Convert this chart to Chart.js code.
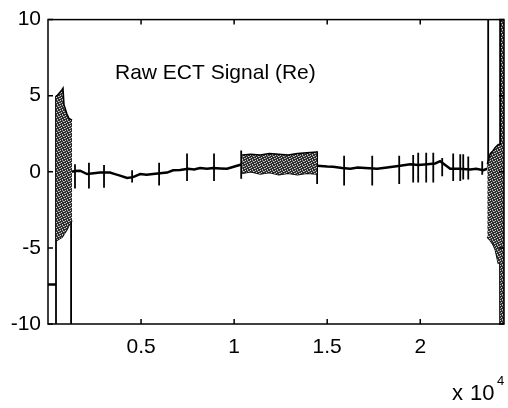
<!DOCTYPE html>
<html>
<head>
<meta charset="utf-8">
<script src="https://cdn.jsdelivr.net/npm/chart.js@4/dist/chart.umd.min.js"></script>
<style>
  body { margin: 0; background: #fff; }
  #wrap { width: 508px; height: 408px; }
</style>
</head>
<body>
<div id="wrap"><canvas id="ectChart" width="508" height="408"></canvas></div>
<script>
const xTicks = [5000, 10000, 15000, 20000];
const yTicks = [-10, -5, 0, 5, 10];

// baseline trace (null = break in the line)
const traceX = [0, 430, 430, 1290, 1450, 1720, 2100, 2450, 2800, 3330, 3600, 3870, 4250, 4570, 4950, 5300, 5640, 6020, 6400, 6720, 7100, 7530, 7850, 8170, 8550, 8870, 9250, 9620, 10160, 10430,
  14460, 15000, 15320, 15800, 16240, 16650, 17040, 17690, 18220, 18920, 19460, 19900, 20380, 20800, 21070, 21610, 22100, 22690, 23000, 23390, 23600];
const traceY = [-7.4, -7.4, null, 0.0, 0.05, 0.07, -0.15, -0.1, -0.05, -0.05, -0.15, -0.25, -0.4, -0.35, -0.15, -0.2, -0.15, -0.1, -0.05, 0.1, 0.12, 0.2, 0.15, 0.25, 0.2, 0.25, 0.22, 0.2, 0.4, 0.5,
  0.4, 0.35, 0.33, 0.25, 0.2, 0.28, 0.25, 0.2, 0.28, 0.4, 0.5, 0.45, 0.5, 0.55, 0.7, 0.2, 0.2, 0.15, 0.2, 0.1, 0.2];

// vertical spikes
const spikeX  = [430, 1240, 1450, 2200, 3010, 4520, 5970, 7470, 8920, 10380, 14460, 15910, 17420, 18870, 19620, 19890, 20320, 20700, 21180, 21770, 22150, 22310, 22580, 23330, 23650, 24300];
const spikeLo = [-10, -10, -1.1, -1.1, -1.05, -0.7, -0.9, -0.6, -0.6, -0.45, -0.8, -0.9, -0.9, -0.8, -0.7, -0.7, -0.7, -0.7, -0.3, -0.6, -0.6, -0.5, -0.5, -0.2, 0.3, -10];
const spikeHi = [5.0, -3.2, 0.5, 0.6, 0.45, 0.1, 0.6, 1.2, 1.2, 1.4, 1.35, 1.05, 1.05, 1.05, 1.1, 1.25, 1.25, 1.25, 0.9, 1.2, 1.15, 1.15, 1.0, 0.7, 10, 10];

// dense oscillation envelopes
const bandLeftX  = [430, 484, 753, 806, 860, 1020, 1130, 1290];
const bandLeftHi = [5.0, 5.0, 5.4, 5.5, 4.4, 3.8, 3.5, 3.4];
const bandLeftLo = [-4.5, -4.5, -4.3, -4.2, -4.1, -3.8, -3.5, -3.2];

const bandMidX  = [10430, 10900, 11400, 11900, 12400, 12900, 13400, 13900, 14460];
const bandMidHi = [1.1, 1.15, 1.1, 1.2, 1.15, 1.1, 1.2, 1.25, 1.3];
const bandMidLo = [-0.1, 0.0, -0.15, -0.05, -0.2, -0.1, -0.2, -0.1, -0.15];

const bandRightX  = [23600, 23760, 23920, 24030, 24190, 24290, 24300, 24500];
const bandRightHi = [0.5, 1.2, 1.4, 1.6, 1.8, 1.8, 10, 10];
const bandRightLo = [-4.3, -4.5, -4.8, -5.1, -6.0, -6.0, -10, -10];

const FONT = "'Liberation Sans', Arial, sans-serif";

function pts(xs, ys) {
  return xs.map((x, i) => ({ x: x, y: ys[i] }));
}

const spikePts = [];
spikeX.forEach((x, i) => {
  spikePts.push({ x: x, y: spikeLo[i] }, { x: x, y: spikeHi[i] }, { x: x, y: null });
});

// stippled fill like the scanned figure
function stipple() {
  const c = document.createElement('canvas');
  c.width = 5; c.height = 5;
  const g = c.getContext('2d');
  g.fillStyle = '#2e2e2e';
  g.fillRect(0, 0, 5, 5);
  g.fillStyle = '#cfcfcf';
  [[0, 0], [3, 1], [1, 2], [4, 3], [2, 4]].forEach(p => g.fillRect(p[0], p[1], 1, 1));
  g.fillStyle = '#8a8a8a';
  [[2, 0], [0, 3], [4, 1]].forEach(p => g.fillRect(p[0], p[1], 1, 1));
  return g.createPattern(c, 'repeat');
}
const pattern = stipple();

function band(xs, hi, lo) {
  return [
    { data: pts(xs, hi), borderColor: '#000', borderWidth: 1.5, backgroundColor: pattern, fill: '+1', pointRadius: 0 },
    { data: pts(xs, lo), borderColor: '#000', borderWidth: 1.5, fill: false, pointRadius: 0 },
  ];
}

const boxPlugin = {
  id: 'box',
  afterDraw(chart) {
    const { ctx, chartArea: a, scales } = chart;
    ctx.save();
    ctx.strokeStyle = '#000';
    ctx.lineWidth = 1.5;
    ctx.strokeRect(a.left, a.top, a.right - a.left, a.bottom - a.top);
    ctx.beginPath();
    xTicks.forEach(v => {
      const px = scales.x.getPixelForValue(v);
      ctx.moveTo(px, a.bottom); ctx.lineTo(px, a.bottom - 5);
      ctx.moveTo(px, a.top); ctx.lineTo(px, a.top + 5);
    });
    yTicks.forEach(v => {
      const py = scales.y.getPixelForValue(v);
      ctx.moveTo(a.left, py); ctx.lineTo(a.left + 5, py);
      ctx.moveTo(a.right, py); ctx.lineTo(a.right - 5, py);
    });
    ctx.stroke();

    ctx.fillStyle = '#000';
    ctx.font = '21px ' + FONT;
    ctx.textBaseline = 'alphabetic';
    ctx.fillText('Raw ECT Signal (Re)', 115, 79);
    ctx.font = '22px ' + FONT;
    ctx.fillText('x', 452, 400);
    ctx.fillText('10', 470, 400);
    ctx.font = '13px ' + FONT;
    ctx.fillText('4', 497, 385);
    ctx.restore();
  }
};

new Chart(document.getElementById('ectChart'), {
  type: 'line',
  data: {
    datasets: [
      ...band(bandLeftX, bandLeftHi, bandLeftLo),
      ...band(bandMidX, bandMidHi, bandMidLo),
      ...band(bandRightX, bandRightHi, bandRightLo),
      { data: pts(traceX, traceY), borderColor: '#000', borderWidth: 2.5, fill: false, pointRadius: 0, spanGaps: false },
      { data: spikePts, borderColor: '#000', borderWidth: 1.8, fill: false, pointRadius: 0, spanGaps: false },
    ],
  },
  options: {
    responsive: false,
    animation: false,
    events: [],
    layout: { padding: { top: 18, right: 4, left: 0, bottom: 0 } },
    plugins: { legend: { display: false }, tooltip: { enabled: false } },
    scales: {
      x: {
        type: 'linear',
        min: 0,
        max: 24500,
        grid: { display: false, drawTicks: false },
        border: { display: false },
        afterBuildTicks: (s) => { s.ticks = xTicks.map(v => ({ value: v })); },
        afterFit: (s) => { s.height = 84; },
        ticks: {
          color: '#000',
          font: { family: FONT, size: 21 },
          padding: 11,
          maxRotation: 0,
          callback: (v) => String(v / 10000),
        },
      },
      y: {
        min: -10,
        max: 10,
        grid: { display: false, drawTicks: false },
        border: { display: false },
        afterBuildTicks: (s) => { s.ticks = yTicks.map(v => ({ value: v })); },
        afterFit: (s) => { s.width = 48; },
        ticks: {
          color: '#000',
          font: { family: FONT, size: 21 },
          padding: 7,
        },
      },
    },
  },
  plugins: [boxPlugin],
});
</script>
</body>
</html>
